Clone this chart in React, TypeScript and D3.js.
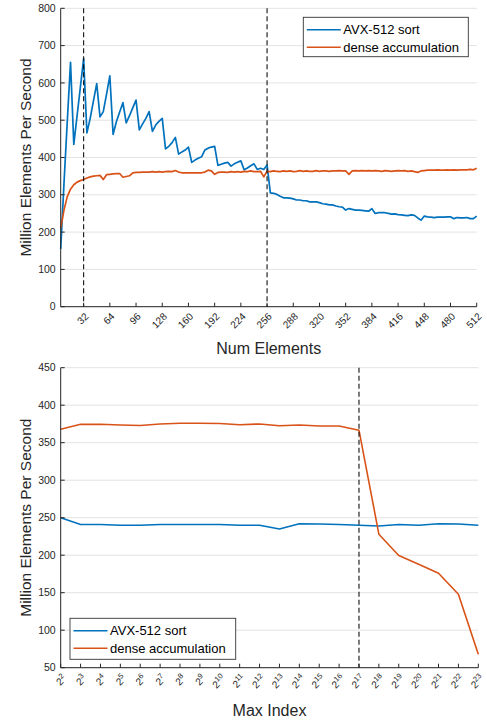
import React from "react";
import * as d3 from "d3";

// ---------- Data ----------
const topNumElements = [
  4, 8, 12, 16, 20, 24, 28, 32, 36, 40, 44, 48, 52, 56, 60, 64, 68, 72, 76, 80, 84, 88, 92, 96,
  100, 104, 108, 112, 116, 120, 124, 128, 132, 136, 140, 144, 148, 152, 156, 160, 164, 168, 172, 176,
  180, 184, 188, 192, 196, 200, 204, 208, 212, 216, 220, 224, 228, 232, 236, 240, 244, 248, 252, 256,
  260, 264, 268, 272, 276, 280, 284, 288, 292, 296, 300, 304, 308, 312, 316, 320, 324, 328, 332, 336,
  340, 344, 348, 352, 356, 360, 364, 368, 372, 376, 380, 384, 388, 392, 396, 400, 404, 408, 412, 416,
  420, 424, 428, 432, 436, 440, 444, 448, 452, 456, 460, 464, 468, 472, 476, 480, 484, 488, 492, 496,
  500, 504, 508, 512,
];
const topAvxSort = [
  155, 330, 495, 655, 435, 512, 588, 665, 466, 505, 552, 598, 509, 523, 570, 619, 462, 496, 522, 547,
  493, 512, 533, 554, 474, 490, 505, 523, 470, 487, 497, 505, 423, 430, 440, 454, 409, 415, 420, 428,
  387, 393, 398, 402, 420, 425, 428, 430, 379, 382, 385, 387, 377, 383, 387, 391, 367, 372, 378, 383,
  368, 371, 368, 380, 305, 304, 301, 296, 292, 292, 291, 289, 286, 286, 284, 284, 281, 281, 281, 279,
  276, 275, 273, 273, 270, 268, 267, 259, 263, 261, 259, 259, 258, 257, 256, 263, 250, 252, 252, 252,
  250, 248, 249, 247, 246, 245, 244, 246, 245, 238, 232, 243, 241, 240, 239, 240, 240, 240, 241, 241,
  236, 239, 238, 238, 239, 236, 236, 243,
];
const topDenseAccum = [
  210, 259, 295, 315, 327, 334, 338, 341, 345, 348, 350, 351, 352, 341, 354, 355, 356, 357, 357, 347,
  349, 351, 359, 360, 360, 361, 361, 361, 362, 361, 362, 361, 362, 363, 362, 365, 361, 359, 359, 359,
  359, 359, 359, 359, 361, 366, 364, 355, 360, 361, 361, 360, 362, 361, 362, 361, 363, 362, 364, 362,
  362, 363, 348, 363, 362, 364, 363, 362, 364, 363, 364, 362, 363, 365, 363, 364, 363, 363, 365, 363,
  364, 364, 363, 364, 364, 365, 364, 364, 355, 364, 365, 364, 365, 364, 365, 364, 365, 364, 363, 365,
  364, 363, 364, 365, 364, 365, 363, 364, 362, 360, 364, 365, 366, 366, 366, 367, 366, 366, 367, 366,
  367, 366, 367, 367, 367, 368, 367, 371,
];
const topXTicks = [32, 64, 96, 128, 160, 192, 224, 256, 288, 320, 352, 384, 416, 448, 480, 512];
const topYTicks = [0, 100, 200, 300, 400, 500, 600, 700, 800];
const topMarkers = [32, 256];

const botExponents = [2, 3, 4, 5, 6, 7, 8, 9, 10, 11, 12, 13, 14, 15, 16, 17, 18, 19, 20, 21, 22, 23];
const botAvxSort = [
  250, 241, 241, 240, 240, 241, 241, 241, 241, 240, 240, 235, 242, 241.5, 241, 240, 239, 241, 240, 242,
  241.5, 240,
];
const botDenseAccum = [
  368, 374.5, 374.5, 373.6, 373, 375, 376, 376, 375.7, 374, 375, 372.7, 373.6, 372.2, 372.2, 366.7,
  228, 199.5, 188, 176, 148, 68,
];
const botYTicks = [50, 100, 150, 200, 250, 300, 350, 400, 450];
const botMarkers = [17];

const seriesNames = ["AVX-512 sort", "dense accumulation"];
const seriesColors = ["#0072BD", "#D95319"];

// ---------- Styles ----------
const FONT = "'Liberation Sans', Arial, Helvetica, sans-serif";
const AX = "#262626";
const GRID = "#e3e3e3";

type LegendProps = { x: number; y: number; w: number; h: number };
function Legend({ x, y, w, h }: LegendProps) {
  const rowH = 17.5;
  return (
    <g>
      <rect x={x} y={y} width={w} height={h} fill="#fff" stroke="#333" strokeWidth={0.9} />
      {seriesNames.map((name, i) => {
        const cy = y + 12.5 + i * rowH;
        return (
          <g key={name}>
            <line x1={x + 3.5} x2={x + 37.5} y1={cy} y2={cy} stroke={seriesColors[i]} strokeWidth={1.6} />
            <text x={x + 40} y={cy} dy="0.35em" fontSize={13} fill="#000" fontFamily={FONT}>
              {name}
            </text>
          </g>
        );
      })}
    </g>
  );
}

export default function App() {
  // ----- top chart scales -----
  const xT = d3.scaleLinear().domain([4, 512]).range([60.7, 476.7]);
  const yT = d3.scaleLinear().domain([0, 800]).range([306.7, 8.3]);
  const lineT = (vals: number[]) =>
    d3
      .line<number>()
      .x((_, i) => xT(topNumElements[i]))
      .y((d) => yT(d))(vals) as string;

  // ----- bottom chart scales -----
  const xB = d3.scaleLinear().domain([2, 23]).range([60.7, 478.3]);
  const yB = d3.scaleLinear().domain([50, 450]).range([667.7, 367.7]);
  const lineB = (vals: number[]) =>
    d3
      .line<number>()
      .x((_, i) => xB(botExponents[i]))
      .y((d) => yB(d))(vals) as string;

  const tickLen = 4;

  const [tx0, tx1] = xT.range();
  const [ty0, ty1] = yT.range();
  const [bx0, bx1] = xB.range();
  const [by0, by1] = yB.range();

  return (
    <svg
      width={487}
      height={721}
      style={{ position: "absolute", left: 0, top: 0, background: "#fff" }}
      fontFamily={FONT}
    >
      <rect x={0} y={0} width={487} height={721} fill="#fff" />

      {/* ================= TOP CHART ================= */}
      <g>
        {topYTicks.map((t) => (
          <line key={"tg" + t} x1={tx0} x2={tx1} y1={yT(t)} y2={yT(t)} stroke={GRID} strokeWidth={1} />
        ))}
        {/* series */}
        <path d={lineT(topAvxSort)} fill="none" stroke={seriesColors[0]} strokeWidth={1.7} strokeLinejoin="round" />
        <path d={lineT(topDenseAccum)} fill="none" stroke={seriesColors[1]} strokeWidth={1.7} strokeLinejoin="round" />
        {/* markers */}
        {topMarkers.map((m) => (
          <line key={"tm" + m} x1={xT(m)} x2={xT(m)} y1={ty1} y2={ty0} stroke="#111" strokeWidth={1.1} strokeDasharray="5,3" />
        ))}
        {/* axes */}
        <line x1={tx0} x2={tx0} y1={ty1} y2={ty0} stroke={AX} strokeWidth={1} />
        <line x1={tx0} x2={tx1} y1={ty0} y2={ty0} stroke={AX} strokeWidth={1} />
        {topYTicks.map((t) => (
          <g key={"ty" + t}>
            <line x1={tx0} x2={tx0 + tickLen} y1={yT(t)} y2={yT(t)} stroke={AX} />
            <text x={tx0 - 5} y={yT(t)} dy="0.35em" textAnchor="end" fontSize={10.5} fill={AX}>
              {t}
            </text>
          </g>
        ))}
        {topXTicks.map((t) => (
          <g key={"tx" + t}>
            <line x1={xT(t)} x2={xT(t)} y1={ty0} y2={ty0 - tickLen} stroke={AX} />
            <text
              transform={`translate(${xT(t) + 3},${ty0 + 8}) rotate(-45)`}
              dy="0.35em"
              textAnchor="end"
              fontSize={10}
              fill={AX}
            >
              {t}
            </text>
          </g>
        ))}
        <text x={(tx0 + tx1) / 2} y={354} textAnchor="middle" fontSize={16} fill={AX}>
          Num Elements
        </text>
        <text
          transform={`translate(31,${(ty0 + ty1) / 2}) rotate(-90)`}
          textAnchor="middle"
          fontSize={15.5}
          fill={AX}
        >
          Million Elements Per Second
        </text>
        <Legend x={303.3} y={17.3} w={165} h={39.4} />
      </g>

      {/* ================= BOTTOM CHART ================= */}
      <g>
        {botYTicks.map((t) => (
          <line key={"bg" + t} x1={bx0} x2={bx1} y1={yB(t)} y2={yB(t)} stroke={GRID} strokeWidth={1} />
        ))}
        <path d={lineB(botAvxSort)} fill="none" stroke={seriesColors[0]} strokeWidth={1.6} strokeLinejoin="round" />
        <path d={lineB(botDenseAccum)} fill="none" stroke={seriesColors[1]} strokeWidth={1.6} strokeLinejoin="round" />
        {botMarkers.map((m) => (
          <line key={"bm" + m} x1={xB(m)} x2={xB(m)} y1={by1} y2={by0} stroke="#111" strokeWidth={1.1} strokeDasharray="5,3" />
        ))}
        <line x1={bx0} x2={bx0} y1={by1} y2={by0} stroke={AX} strokeWidth={1} />
        <line x1={bx0} x2={bx1} y1={by0} y2={by0} stroke={AX} strokeWidth={1} />
        {botYTicks.map((t) => (
          <g key={"by" + t}>
            <line x1={bx0} x2={bx0 + tickLen} y1={yB(t)} y2={yB(t)} stroke={AX} />
            <text x={bx0 - 5} y={yB(t)} dy="0.35em" textAnchor="end" fontSize={10.5} fill={AX}>
              {t}
            </text>
          </g>
        ))}
        {botExponents.map((e) => (
          <g key={"bx" + e}>
            <line x1={xB(e)} x2={xB(e)} y1={by0} y2={by0 - tickLen} stroke={AX} />
            <text
              transform={`translate(${xB(e) + 4},${by0 + 9}) rotate(-45)`}
              dy="0.35em"
              textAnchor="end"
              fontSize={10}
              fill={AX}
            >
              2
              <tspan fontSize={7.5} dy="-4">
                {e}
              </tspan>
            </text>
          </g>
        ))}
        <text x={(bx0 + bx1) / 2} y={716} textAnchor="middle" fontSize={16} fill={AX}>
          Max Index
        </text>
        <text
          transform={`translate(31,${(by0 + by1) / 2}) rotate(-90)`}
          textAnchor="middle"
          fontSize={15.5}
          fill={AX}
        >
          Million Elements Per Second
        </text>
        <Legend x={70} y={618.3} w={165.7} h={41} />
      </g>
    </svg>
  );
}
